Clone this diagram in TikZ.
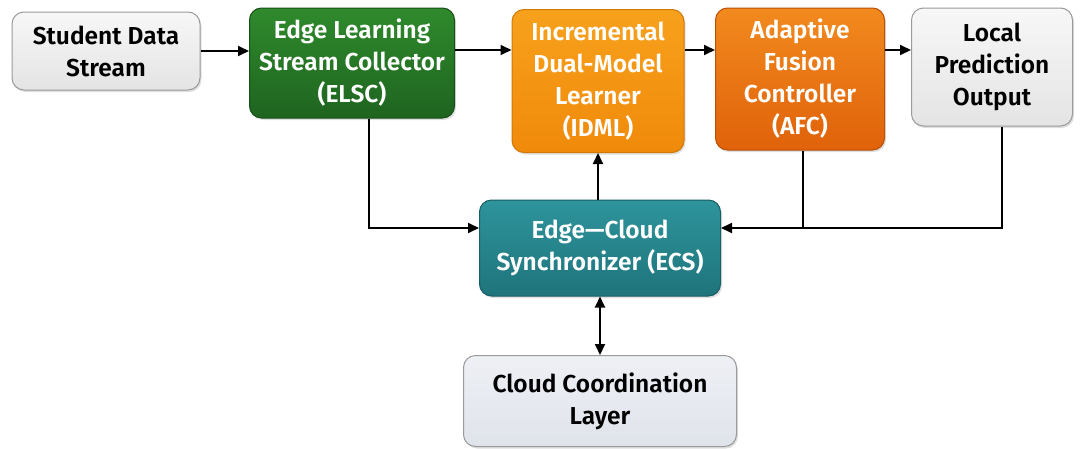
\documentclass[tikz,border=0pt]{standalone}
\usepackage{fontspec}
\setmainfont{Fira Sans}[BoldFont={Fira Sans SemiBold}]
\usetikzlibrary{arrows.meta,shadows}
\definecolor{greytop}{HTML}{F7F7F7}
\definecolor{greybot}{HTML}{E4E4E4}
\definecolor{greyedge}{HTML}{9A9A9A}
\definecolor{greentop}{HTML}{2F8A2C}
\definecolor{greenbot}{HTML}{1E6420}
\definecolor{greenedge}{HTML}{174F18}
\definecolor{idmltop}{HTML}{F7A11C}
\definecolor{idmlbot}{HTML}{F08A0A}
\definecolor{idmledge}{HTML}{D07808}
\definecolor{afctop}{HTML}{F28A1E}
\definecolor{afcbot}{HTML}{E0620A}
\definecolor{afcedge}{HTML}{B85008}
\definecolor{tealtop}{HTML}{2E949C}
\definecolor{tealbot}{HTML}{1F747B}
\definecolor{tealedge}{HTML}{185E63}
\definecolor{cloudtop}{HTML}{EEF0F5}
\definecolor{cloudbot}{HTML}{DFE3EA}
\begin{document}
\begin{tikzpicture}[x=1pt,y=-1pt,
  box/.style={rounded corners=12pt, align=center, font=\fontsize{24.5}{32}\selectfont\bfseries,
    line width=1pt, inner sep=0pt, drop shadow={shadow xshift=1.5pt,shadow yshift=-2pt,opacity=0.25}},
  greybox/.style={box, draw=greyedge, top color=greytop, bottom color=greybot, text=black},
  greenbox/.style={box, draw=greenedge, top color=greentop, bottom color=greenbot, text=white},
  idmlbox/.style={box, draw=idmledge, top color=idmltop, bottom color=idmlbot, text=white},
  afcbox/.style={box, draw=afcedge, top color=afctop, bottom color=afcbot, text=white},
  tealbox/.style={box, draw=tealedge, top color=tealtop, bottom color=tealbot, text=white},
  cloudbox/.style={box, draw=greyedge, top color=cloudtop, bottom color=cloudbot, text=black},
  conn/.style={line width=1.8pt, -{Triangle[length=11pt,width=10pt]}},
  line/.style={line width=1.8pt}
]
\useasboundingbox (0,0) rectangle (1080,448);
\node[greybox, minimum width=188pt, minimum height=78pt] (sds) at (106,51) {Student Data\\Stream};
\node[greenbox, minimum width=205pt, minimum height=110pt] (elsc) at (352,63) {Edge Learning\\Stream Collector\\(ELSC)};
\node[idmlbox, minimum width=172pt, minimum height=143pt] (idml) at (598,81) {Incremental\\Dual-Model\\Learner\\(IDML)};
\node[afcbox, minimum width=169pt, minimum height=142pt] (afc) at (800,79) {Adaptive\\Fusion\\Controller\\(AFC)};
\node[greybox, minimum width=161pt, minimum height=118pt] (lpo) at (992,67) {Local\\Prediction\\Output};
\node[tealbox, minimum width=241pt, minimum height=96pt] (ecs) at (600,248) {Edge---Cloud\\Synchronizer (ECS)};
\node[cloudbox, minimum width=273pt, minimum height=91pt] (cloud) at (600,401) {Cloud Coordination\\Layer};

\coordinate (j1) at (369,228);
\coordinate (j2) at (803,228);
\coordinate (j3) at (1002,228);

\draw[conn] (sds.east |- 0,51) -- (elsc.west |- 0,51);
\draw[conn] (elsc.east |- 0,50) -- (idml.west |- 0,50);
\draw[conn] (idml.east |- 0,50) -- (afc.west |- 0,50);
\draw[conn] (afc.east |- 0,50) -- (lpo.west |- 0,50);
\draw[conn] (elsc.south -| j1) -- (j1) -- (ecs.west |- j1);
\draw[conn] (ecs.north -| 598,0) -- (idml.south -| 598,0);
\draw[line] (afc.south -| j2) -- (j2);
\draw[conn] (lpo.south -| j3) -- (j3) -- (ecs.east |- j3);
\draw[line width=1.8pt, {Triangle[length=11pt,width=10pt]}-{Triangle[length=11pt,width=10pt]}] (ecs.south) -- (cloud.north);
\end{tikzpicture}
\end{document}
